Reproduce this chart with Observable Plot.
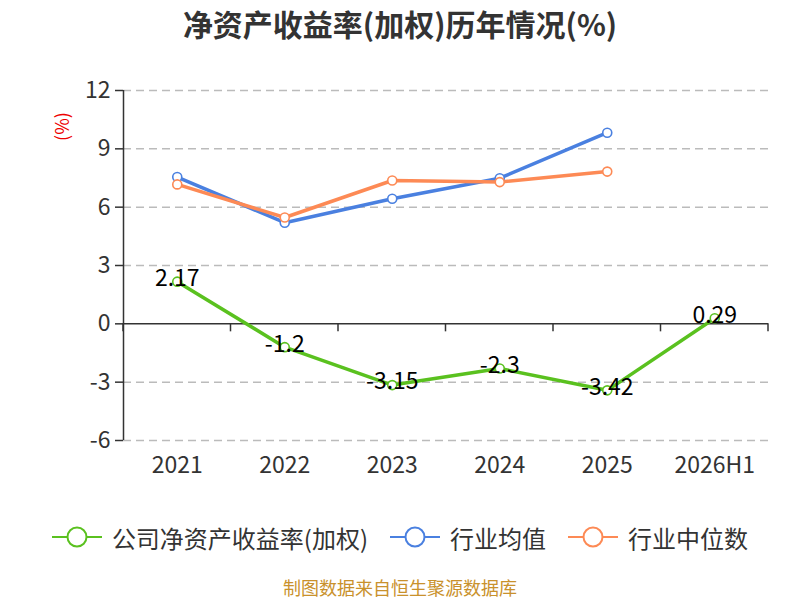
<!DOCTYPE html>
<html>
<head>
<meta charset="utf-8">
<script src="https://cdn.jsdelivr.net/npm/d3@7"></script>
<script src="https://cdn.jsdelivr.net/npm/@observablehq/plot@0.6"></script>
<style>
  body { margin: 0; width: 800px; height: 600px; overflow: hidden; background: #fff; font-family: "Noto Sans CJK SC", "Noto Sans", sans-serif; }
  #title { height: 46px; display: flex; align-items: center; justify-content: center; font-size: 30px; font-weight: bold; color: #333; }
  #chart { height: 454px; }
  #legend { height: 74px; display: flex; align-items: center; justify-content: center; gap: 22px; font-size: 24px; color: #333; }
  .item { display: flex; align-items: center; gap: 10px; }
  #caption { height: 26px; text-align: center; font-size: 18px; color: #c9912c; line-height: 26px; }
</style>
</head>
<body>
<div id="title">净资产收益率(加权)历年情况(%)</div>
<div id="chart"></div>
<div id="legend"></div>
<div id="caption">制图数据来自恒生聚源数据库</div>
<script>
const categories = ["2021", "2022", "2023", "2024", "2025", "2026H1"];
const companyROE = [2.17, -1.2, -3.15, -2.3, -3.42, 0.29];
const industryMean = [7.55, 5.2, 6.43, 7.49, 9.83];
const industryMedian = [7.17, 5.47, 7.37, 7.29, 7.83];
const yTicks = [-6, -3, 0, 3, 6, 9, 12];

const seriesNames = ["公司净资产收益率(加权)", "行业均值", "行业中位数"];
const colors = ["#5ac11f", "#4a80e0", "#fd8a55"];

const toRows = (vals, name) => vals.map((v, i) => ({i, cat: categories[i], v, name}));
const company = toRows(companyROE, seriesNames[0]);
const mean = toRows(industryMean, seriesNames[1]);
const median = toRows(industryMedian, seriesNames[2]);

const boundaries = d3.range(categories.length + 1).map(i => i - 0.5);

const boundaryTicks = (index, scales) => {
  const g = d3.create("svg:g");
  const y0 = scales.y(0);
  for (const b of boundaries) {
    const x = scales.x(b);
    g.append("line").attr("x1", x).attr("x2", x).attr("y1", y0).attr("y2", y0 + 8)
      .attr("stroke", "#333").attr("stroke-width", 1.5);
  }
  return g.node();
};

const chart = Plot.plot({
  width: 800,
  height: 454,
  marginTop: 44,
  marginBottom: 60,
  marginLeft: 123,
  marginRight: 32,
  style: {fontFamily: "'Noto Sans CJK SC', 'Noto Sans', sans-serif", background: "#fff"},
  x: {domain: [-0.5, categories.length - 0.5]},
  y: {domain: [-6, 12]},
  marks: [
    Plot.gridY(yTicks.filter(t => t !== 0), {stroke: "#bbb", strokeOpacity: 1, strokeWidth: 1.5, strokeDasharray: "8,5"}),
    Plot.ruleY([0], {stroke: "#333", strokeWidth: 1.5}),
    Plot.ruleX([-0.5], {y1: -6, y2: 12, stroke: "#333", strokeWidth: 1.5}),
    boundaryTicks,
    Plot.axisY({ticks: yTicks, tickFormat: d => String(d), tickSize: 8, tickPadding: 5, fontSize: 23, color: "#333", stroke: "#333", strokeWidth: 1.5, label: null}),
    Plot.axisX({ticks: d3.range(categories.length), tickFormat: i => categories[i], tickSize: 0, tickPadding: 16, fontSize: 23, color: "#333", label: null}),
    Plot.line(mean, {x: "i", y: "v", stroke: colors[1], strokeWidth: 3.5}),
    Plot.line(median, {x: "i", y: "v", stroke: colors[2], strokeWidth: 3.5}),
    Plot.line(company, {x: "i", y: "v", stroke: colors[0], strokeWidth: 3.5}),
    Plot.dot(mean, {x: "i", y: "v", r: 4.5, fill: "#fff", stroke: colors[1], strokeWidth: 1.6}),
    Plot.dot(median, {x: "i", y: "v", r: 4.5, fill: "#fff", stroke: colors[2], strokeWidth: 1.6}),
    Plot.dot(company, {x: "i", y: "v", r: 4.5, fill: "#fff", stroke: colors[0], strokeWidth: 1.6}),
    Plot.text(company, {x: "i", y: "v", text: d => String(d.v), fontSize: 23, fill: "#000", dy: -3, textAnchor: "middle", lineAnchor: "middle"}),
    Plot.text(["(%)"], {frameAnchor: "top-left", dx: -67, dy: 36, rotate: -90, fill: "#e00", fontSize: 18, textAnchor: "middle"})
  ]
});
document.getElementById("chart").appendChild(chart);

const legend = document.getElementById("legend");
seriesNames.forEach((name, k) => {
  const item = document.createElement("div");
  item.className = "item";
  item.innerHTML = `<svg width="50" height="22"><line x1="0" x2="50" y1="11" y2="11" stroke="${colors[k]}" stroke-width="2"/><circle cx="25" cy="11" r="9.5" fill="#fff" stroke="${colors[k]}" stroke-width="2"/></svg><span>${name}</span>`;
  legend.appendChild(item);
});
</script>
</body>
</html>
